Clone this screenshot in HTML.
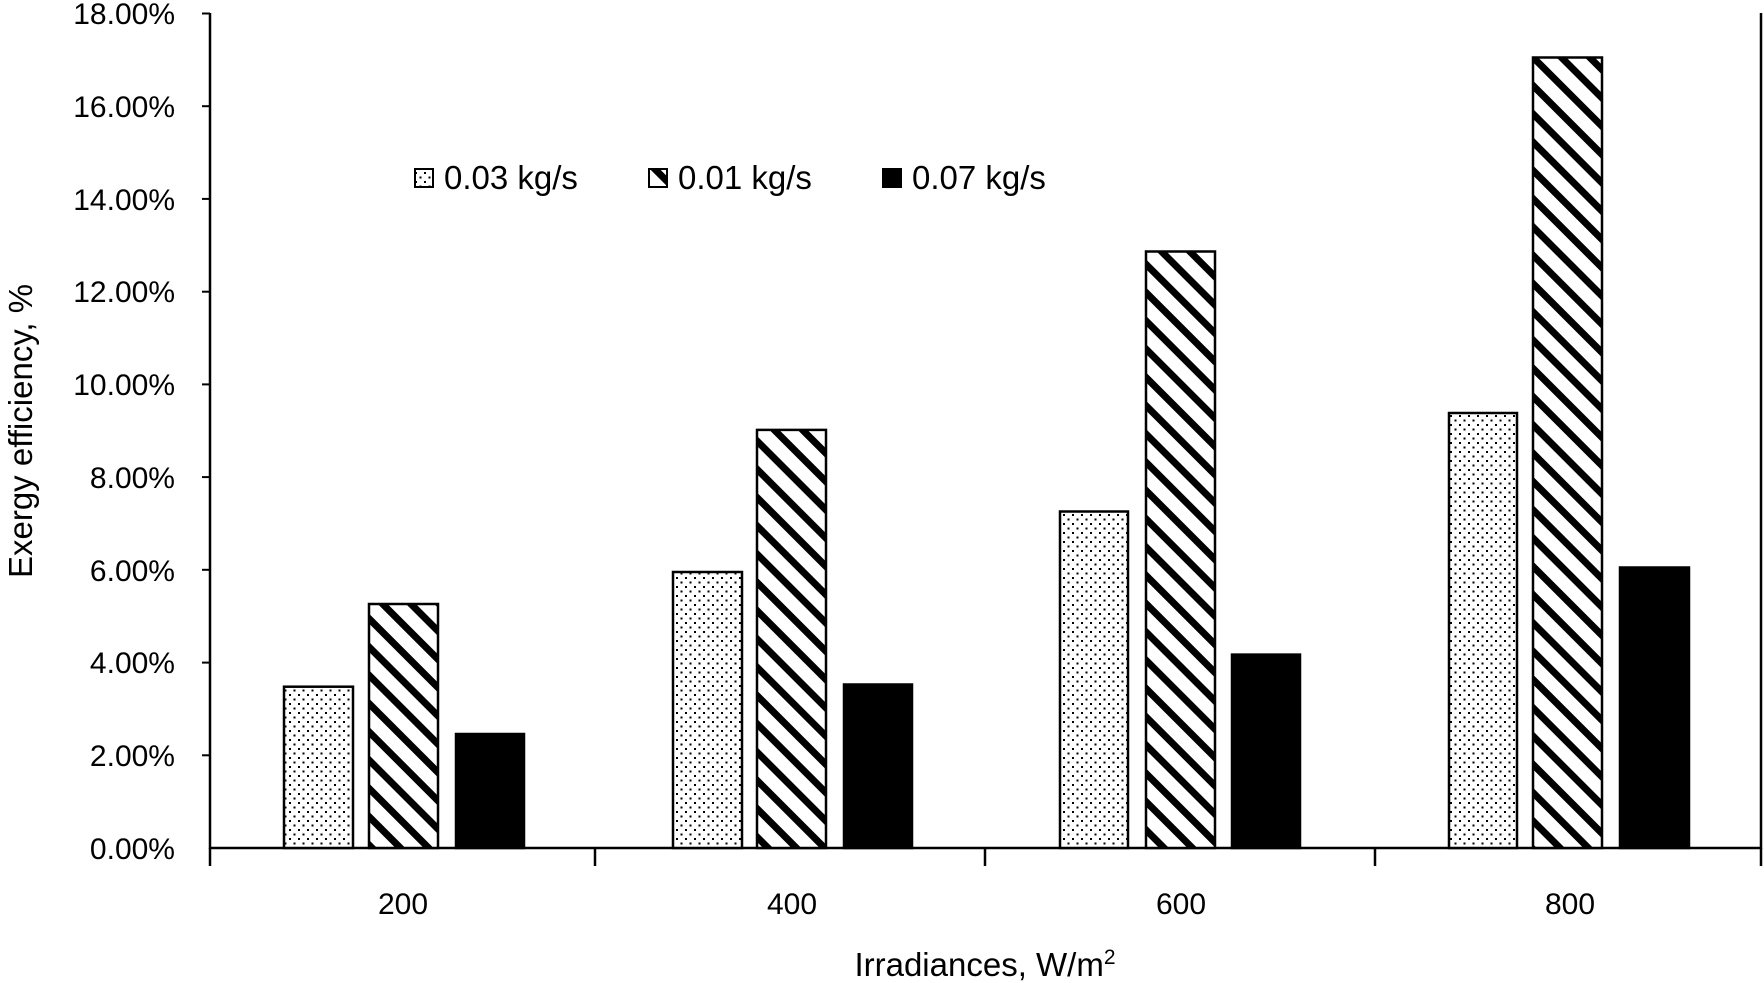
<!DOCTYPE html>
<html><head><style>html,body{margin:0;padding:0;background:#fff}svg{display:block}</style></head>
<body>
<svg width="1764" height="983" xmlns="http://www.w3.org/2000/svg" font-family="Liberation Sans, sans-serif">
<defs>
<pattern id="hatch" patternUnits="userSpaceOnUse" width="20" height="20" patternTransform="rotate(-45)">
<rect width="20" height="20" fill="#fff"/><rect x="0" y="0" width="7" height="20" fill="#000"/>
</pattern>
<pattern id="dots" patternUnits="userSpaceOnUse" width="9" height="9">
<rect width="9" height="9" fill="#fff"/><rect x="1" y="1" width="2" height="2" fill="#000"/><rect x="5.5" y="5.5" width="2" height="2" fill="#000"/>
</pattern>
</defs>
<g stroke="#000" stroke-width="2.5" fill="none">
<line x1="210" y1="13" x2="210" y2="849"/>
<line x1="1761" y1="13" x2="1761" y2="849"/>
<line x1="210" y1="848" x2="1761" y2="848"/>
<line x1="210" y1="848" x2="210" y2="866"/>
<line x1="595" y1="848" x2="595" y2="866"/>
<line x1="985" y1="848" x2="985" y2="866"/>
<line x1="1375" y1="848" x2="1375" y2="866"/>
<line x1="1761" y1="848" x2="1761" y2="866"/>
</g>
<g stroke="#000" stroke-width="2">
<line x1="202" y1="13.5" x2="210" y2="13.5"/><line x1="202" y1="106.2" x2="210" y2="106.2"/><line x1="202" y1="198.9" x2="210" y2="198.9"/><line x1="202" y1="291.7" x2="210" y2="291.7"/><line x1="202" y1="384.4" x2="210" y2="384.4"/><line x1="202" y1="477.1" x2="210" y2="477.1"/><line x1="202" y1="569.8" x2="210" y2="569.8"/><line x1="202" y1="662.6" x2="210" y2="662.6"/><line x1="202" y1="755.3" x2="210" y2="755.3"/>
</g>
<g font-size="30" text-anchor="end" fill="#000">
<text x="175" y="24">18.00%</text><text x="175" y="117">16.00%</text><text x="175" y="210">14.00%</text><text x="175" y="302">12.00%</text><text x="175" y="395">10.00%</text><text x="175" y="488">8.00%</text><text x="175" y="581">6.00%</text><text x="175" y="673">4.00%</text><text x="175" y="766">2.00%</text><text x="175" y="859">0.00%</text>
</g>
<g font-size="30" text-anchor="middle" fill="#000">
<text x="403" y="914">200</text><text x="792" y="914">400</text><text x="1181" y="914">600</text><text x="1570" y="914">800</text>
<text x="985" y="976" font-size="33">Irradiances, W/m<tspan font-size="21" dy="-12">2</tspan></text>
</g>
<text transform="translate(32,431) rotate(-90)" font-size="33" text-anchor="middle">Exergy efficiency, %</text>
<g stroke="#000" stroke-width="2.5">
<rect x="284" y="686.7" width="69" height="161.3" fill="url(#dots)"/>
<rect x="369" y="604" width="69" height="244" fill="url(#hatch)"/>
<rect x="456" y="734" width="68" height="114" fill="#000"/>
<rect x="673" y="572" width="69" height="276" fill="url(#dots)"/>
<rect x="757" y="429.9" width="69" height="418.1" fill="url(#hatch)"/>
<rect x="844" y="684.5" width="68" height="163.5" fill="#000"/>
<rect x="1060" y="511.5" width="68" height="336.5" fill="url(#dots)"/>
<rect x="1146" y="251.5" width="69" height="596.5" fill="url(#hatch)"/>
<rect x="1232" y="654.6" width="68" height="193.4" fill="#000"/>
<rect x="1449" y="413" width="68" height="435" fill="url(#dots)"/>
<rect x="1533" y="57.5" width="69" height="790.5" fill="url(#hatch)"/>
<rect x="1620" y="567.5" width="69" height="280.5" fill="#000"/>
<rect x="415" y="169" width="18" height="18" fill="url(#dots)" stroke-width="2"/>
<rect x="649" y="169" width="18" height="18" fill="url(#hatch)" stroke-width="2"/>
<rect x="883" y="169" width="18" height="18" fill="#000" stroke-width="2"/>
</g>
<g font-size="33" fill="#000">
<text x="444" y="189">0.03 kg/s</text><text x="678" y="189">0.01 kg/s</text><text x="912" y="189">0.07 kg/s</text>
</g>
</svg>
</body></html>
